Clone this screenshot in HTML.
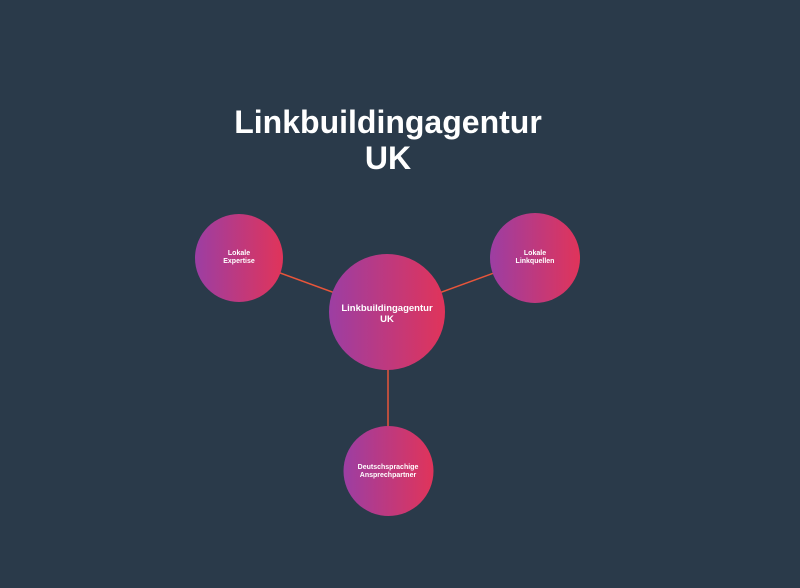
<!DOCTYPE html>
<html><head><meta charset="utf-8"><style>
html,body{margin:0;padding:0;background:#2a3a4a;}
svg{display:block}
text{font-family:"Liberation Sans",sans-serif;font-weight:bold;fill:#fff;text-anchor:middle}
</style></head><body>
<svg width="800" height="588" viewBox="0 0 800 588">
<defs><linearGradient id="g" x1="0" y1="0" x2="1" y2="0">
<stop offset="0" stop-color="#9c3ea3"/><stop offset="1" stop-color="#e0345a"/></linearGradient></defs>
<rect width="800" height="588" fill="#2a3a4a"/>
<g stroke="#e8553a" stroke-width="1.5">
<line x1="239" y1="258" x2="387" y2="312"/>
<line x1="535" y1="258" x2="387" y2="312"/>
<line x1="388" y1="312" x2="388" y2="471"/>
</g>
<circle cx="239" cy="258" r="44" fill="url(#g)"/>
<circle cx="535" cy="258" r="45" fill="url(#g)"/>
<circle cx="388.5" cy="471" r="45" fill="url(#g)"/>
<circle cx="387" cy="312" r="58" fill="url(#g)"/>
<text x="388" y="133" font-size="32">Linkbuildingagentur</text>
<text x="388" y="169" font-size="32">UK</text>
<text x="387" y="311" font-size="9.5">Linkbuildingagentur</text>
<text x="387" y="322" font-size="9.5">UK</text>
<text x="239" y="255" font-size="7">Lokale</text>
<text x="239" y="263" font-size="7">Expertise</text>
<text x="535" y="255" font-size="7">Lokale</text>
<text x="535" y="263" font-size="7">Linkquellen</text>
<text x="388" y="469" font-size="7">Deutschsprachige</text>
<text x="388" y="477" font-size="7">Ansprechpartner</text>
</svg>
</body></html>
